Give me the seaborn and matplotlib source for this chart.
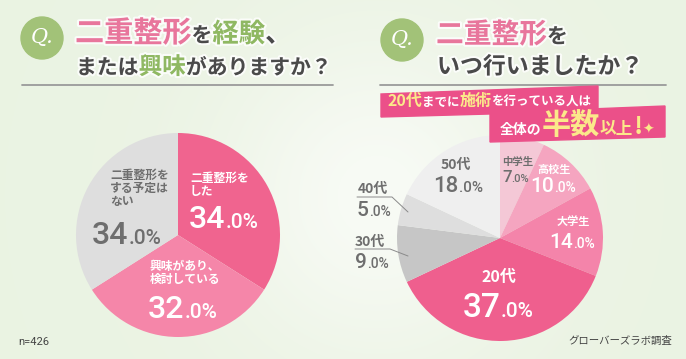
import numpy as np
import matplotlib
matplotlib.use("Agg")
import matplotlib.pyplot as plt
import matplotlib.patheffects as pe
import seaborn as sns
from matplotlib.offsetbox import TextArea, HPacker, VPacker, AnnotationBbox
from matplotlib.patches import Circle, Polygon

sns.set_theme(style="white")
JP = ['Noto Sans CJK JP', 'DejaVu Sans']
NUM = ['Roboto', 'DejaVu Sans']
plt.rcParams['font.family'] = JP

# --- data ---
exp_labels = ['二重整形を\nした', '興味があり、\n検討している', '二重整形を\nする予定は\nない']
exp_values = [34.0, 32.0, 34.0]
exp_colors = ['#f0648f', '#f586a9', '#dedede']

when_labels = ['中学生', '高校生', '大学生', '20代', '30代', '40代', '50代']
when_values = [7.0, 10.0, 14.0, 37.0, 9.0, 5.0, 18.0]
when_colors = ['#f4c8d6', '#f5a5c0', '#f484aa', '#ef5f8e', '#c6c6c6', '#dedede', '#efefef']

n_resp = 426
source = 'グローバーズラボ調査'

PINK = '#e8769c'
GREEN = '#8fb862'
DARK = '#4a4a4a'
GRAY = '#6e6e6e'
YELLOW = '#fbe98a'

W, H = 686, 359
fig = plt.figure(figsize=(W / 100, H / 100), dpi=100)

# background: pale green wash with a soft white glow
bg = fig.add_axes([0, 0, 1, 1])
yy, xx = np.mgrid[0:1:H * 1j, 0:1:W * 1j]
glow = np.exp(-((xx - 0.55) ** 2 / 0.05 + (yy - 0.55) ** 2 / 0.2))
base = np.array([0.92, 0.953, 0.89])
img = base[None, None, :] * (1 - 0.65 * glow[..., None]) + 0.65 * glow[..., None]
img = np.clip(img, 0, 1)
bg.imshow(img, aspect='auto', extent=(0, W, H, 0))
bg.axis('off')


def pie_axes(cx, cy, r):
    return fig.add_axes([(cx - r) / W, (H - cy - r) / H, 2 * r / W, 2 * r / H])


axL = pie_axes(178, 235, 102)
axL.pie(exp_values, colors=exp_colors, startangle=90, counterclock=False,
        wedgeprops=dict(linewidth=0))
axL.set_xlim(-1, 1); axL.set_ylim(-1, 1); axL.axis('off')

axR = pie_axes(500, 238, 103)
axR.pie(when_values, colors=when_colors, startangle=90, counterclock=False,
        wedgeprops=dict(linewidth=0))
axR.set_xlim(-1, 1); axR.set_ylim(-1, 1); axR.axis('off')

# overlay in pixel coordinates for text and decorations
ov = fig.add_axes([0, 0, 1, 1])
ov.set_xlim(0, W); ov.set_ylim(H, 0)
ov.axis('off'); ov.patch.set_alpha(0)


def ta(text, size, color, family=JP, weight='bold', glow=False, style='normal'):
    props = dict(family=family, fontsize=size, color=color, fontweight=weight, fontstyle=style)
    if glow:
        props['path_effects'] = [pe.withStroke(linewidth=3, foreground='white', alpha=0.8)]
    return TextArea(text, textprops=props)


def place(box, xy, align=(0, 0.5)):
    ov.add_artist(AnnotationBbox(box, xy, xycoords='data', box_alignment=align,
                                 frameon=False, pad=0))


def row(parts):
    return HPacker(children=parts, align='baseline', pad=0, sep=0)


def name_label(text, xy, size, color, align='left'):
    lines = [ta(t, size, color) for t in text.split('\n')]
    box = VPacker(children=lines, align=align, pad=0, sep=0)
    place(box, xy, (0 if align == 'left' else 0.5, 0.5))


def pct_label(value, xy, big, small, color, align='left'):
    whole, dec = f"{value:.1f}".split('.')
    box = row([ta(whole, big, color, NUM, 'medium'), ta('.' + dec + '%', small, color, NUM, 'medium')])
    place(box, xy, (0 if align == 'left' else 0.5, 0.5))


# --- titles ---
for cx, cy in [(42, 38), (402, 40)]:
    ov.add_patch(Circle((cx, cy), 21, color='#a2c278', zorder=3))
    ov.text(cx, cy, 'Q.', color='white', fontsize=15, ha='center', va='center',
            family=['DejaVu Serif'], style='italic', zorder=4)

place(row([ta('二重整形', 21, PINK, glow=True), ta('を', 15, DARK, glow=True),
           ta('経験', 19, GREEN, glow=True), ta('、', 19, DARK, glow=True)]), (75, 33))
place(row([ta('または', 15, DARK, glow=True), ta('興味', 17, GREEN, glow=True),
           ta('がありますか？', 15, DARK, glow=True)]), (76, 67))
ov.plot([22, 333], [85, 85], color='#9a9a9a', lw=1.3)

place(row([ta('二重整形', 20, PINK, glow=True), ta('を', 15, DARK, glow=True)]), (436, 35))
place(row([ta('いつ行いましたか？', 16.5, DARK, glow=True)]), (437, 67))
ov.plot([380, 666], [85, 85], color='#9a9a9a', lw=1.3)

# banners
ov.add_patch(Polygon([(381, 94), (598, 86), (598, 111), (381, 117)], color='#eb5089', zorder=3))
ov.add_patch(Polygon([(490, 113), (665, 106), (665, 137), (490, 142)], color='#eb5089', zorder=3))
place(row([ta('20代', 11.5, YELLOW), ta('までに', 9, 'white'), ta('施術', 11.5, YELLOW),
           ta('を行っている人は', 9, 'white')]), (387, 101))
place(row([ta('全体の', 10, 'white'), ta('半数', 21, YELLOW), ta('以上', 12, YELLOW),
           ta('!', 18, YELLOW), ta('✦', 10, YELLOW, family=['DejaVu Sans'])]), (500, 125))

# --- left pie labels ---
name_label(exp_labels[0], (190, 185), 8.5, 'white')
pct_label(exp_values[0], (189, 220), 23, 15, 'white')
name_label(exp_labels[1], (150, 273), 8.5, 'white')
pct_label(exp_values[1], (148, 309), 23, 15, 'white')
name_label(exp_labels[2], (110, 188), 8.5, GRAY)
pct_label(exp_values[2], (92, 235), 23, 15, GRAY)

# --- right pie labels ---
name_label(when_labels[0], (502, 162), 7.5, GRAY)
pct_label(when_values[0], (502, 177), 12, 8, GRAY)
name_label(when_labels[1], (554, 169), 8, 'white', 'center')
pct_label(when_values[1], (553, 187), 15, 10, 'white', 'center')
name_label(when_labels[2], (573, 221), 8, 'white', 'center')
pct_label(when_values[2], (572, 242), 15, 10, 'white', 'center')
name_label(when_labels[3], (499, 277), 11.5, 'white', 'center')
pct_label(when_values[3], (498, 308), 24, 15, 'white', 'center')
name_label(when_labels[6], (456, 165), 10, GRAY, 'center')
pct_label(when_values[6], (458, 187), 16, 11, GRAY, 'center')
name_label(when_labels[5], (358, 189), 10, GRAY)
pct_label(when_values[5], (357, 210), 15, 10, GRAY)
name_label(when_labels[4], (355, 242), 10, GRAY)
pct_label(when_values[4], (355, 263), 15, 10, GRAY)

# leader lines for small outside slices
ov.plot([357, 392, 408], [197, 197, 212], color='#8a8a8a', lw=0.7)
ov.plot([355, 390, 408], [249, 249, 256], color='#8a8a8a', lw=0.7)

# footer
ov.text(18, 342, f'n={n_resp}', fontsize=8, color='#444444', va='center', family=NUM)
ov.text(672, 341, source, fontsize=7.5, color='#444444', va='center', ha='right')

fig.savefig('out.png', dpi=100)
